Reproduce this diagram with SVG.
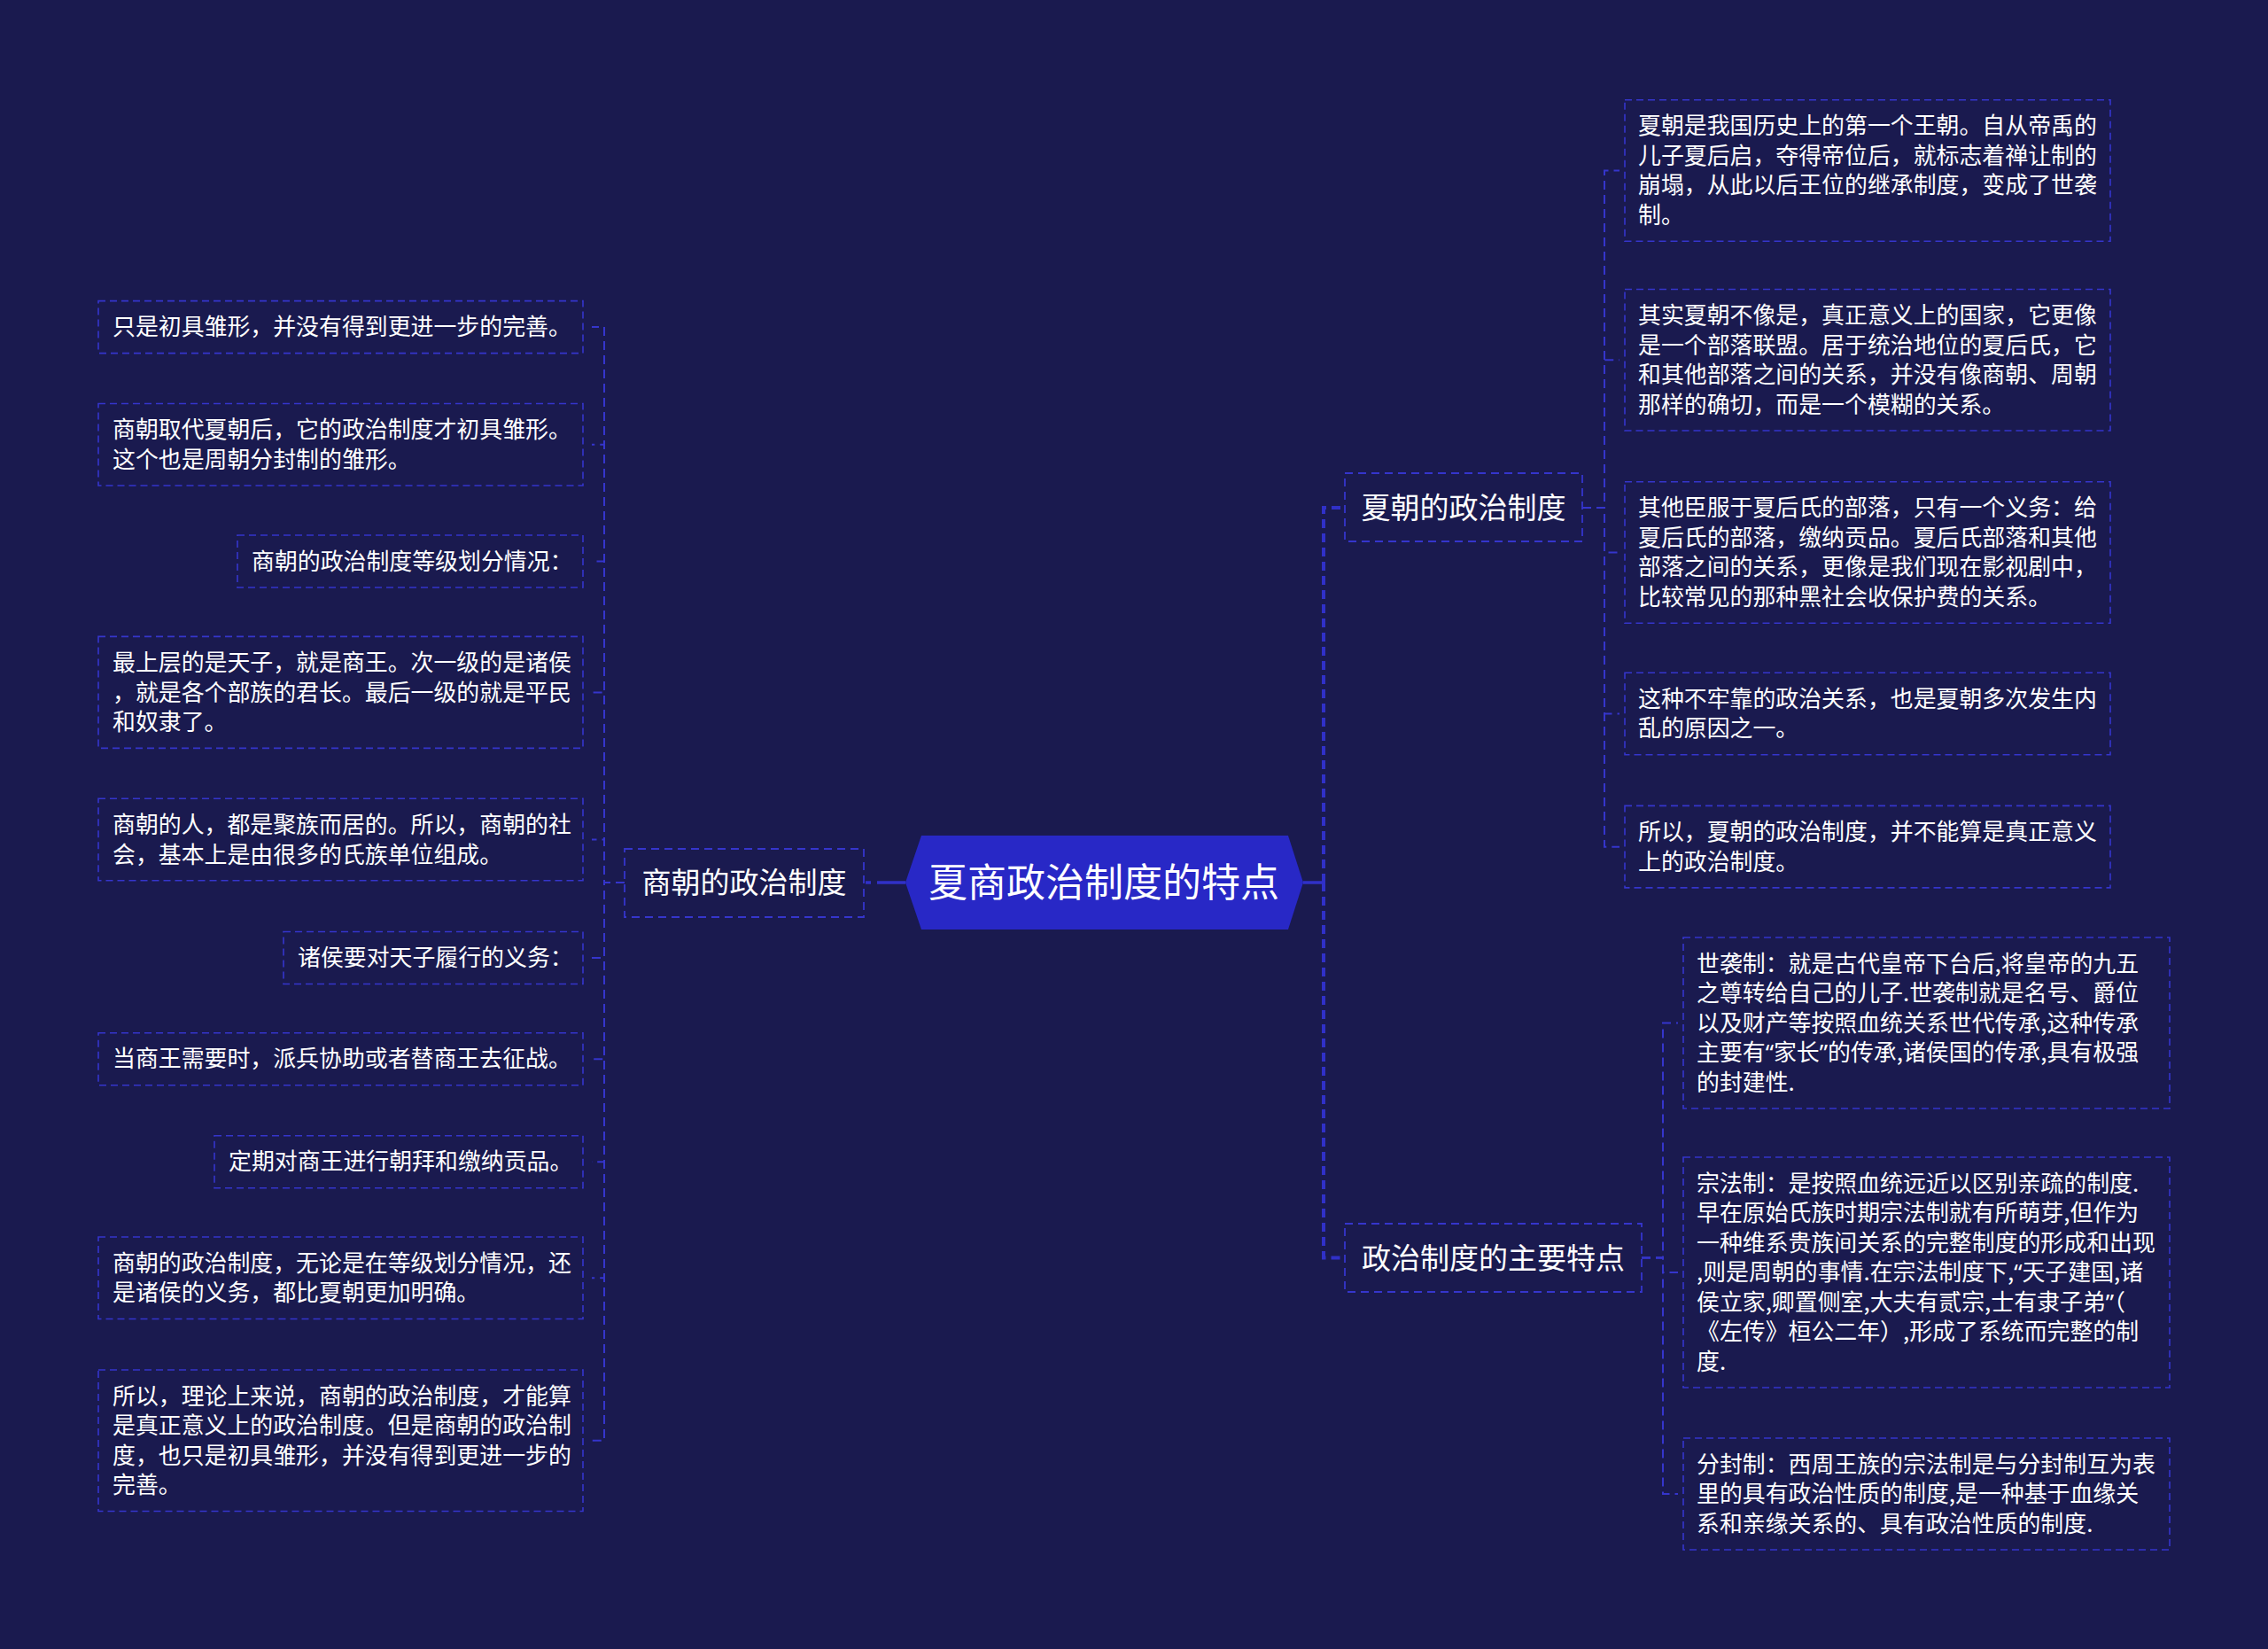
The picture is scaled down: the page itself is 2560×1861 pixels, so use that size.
<svg xmlns="http://www.w3.org/2000/svg" width="2560" height="1861" viewBox="0 0 2560 1861">
<style>
.bg{fill:#1a1a4f}
.leaf{fill:none;stroke:#3535cc;stroke-width:1.6;stroke-dasharray:8 5}
.branch{fill:#1a1a4f;stroke:#3535cc;stroke-width:1.8;stroke-dasharray:9 6}
.thin{fill:none;stroke:#3535cc;stroke-width:2;stroke-dasharray:10 6}
.thick{fill:none;stroke:#3030c8;stroke-width:4;stroke-dasharray:10 6}
.solid{fill:none;stroke:#3030c8;stroke-width:3.5}
.t{font-family:"Noto Sans CJK SC","Noto Sans",sans-serif;fill:#ffffff}
.q{font-family:"Noto Sans","DejaVu Sans",sans-serif}
.lt{font-size:25.9px}
.bt{font-size:33px;text-anchor:middle}
.rt{font-size:44px;text-anchor:middle}
</style>
<rect class="bg" x="0" y="0" width="2560" height="1861"/>

<g id="connectors">
  <path class="solid" d="M1022 996 H990"/>
  <path class="solid" d="M983 996 H977"/>
  <path class="solid" d="M1471 996 H1494"/>
  <path class="thick" d="M1494 996 V573 H1517"/>
  <path class="thick" d="M1494 996 V1419.5 H1517"/>
  <path class="thin" d="M705 996 H682 V369 H668"/>
  <path class="thin" d="M705 996 H682 V501.75 H668"/>
  <path class="thin" d="M705 996 H682 V633.5 H668"/>
  <path class="thin" d="M705 996 H682 V781.4 H668"/>
  <path class="thin" d="M705 996 H682 V947.5 H668"/>
  <path class="thin" d="M705 996 H682 V1081 H668"/>
  <path class="thin" d="M705 996 H682 V1195.2 H668"/>
  <path class="thin" d="M705 996 H682 V1311.2 H668"/>
  <path class="thin" d="M705 996 H682 V1442.2 H668"/>
  <path class="thin" d="M705 996 H682 V1625.75 H668"/>
  <path class="thin" d="M1786 573 H1811 V192.5 H1828"/>
  <path class="thin" d="M1786 573 H1811 V406.25 H1828"/>
  <path class="thin" d="M1786 573 H1811 V623.5 H1828"/>
  <path class="thin" d="M1786 573 H1811 V805.5 H1828"/>
  <path class="thin" d="M1786 573 H1811 V955.7 H1828"/>
  <path class="thin" d="M1853 1419.5 H1877 V1154.5 H1894"/>
  <path class="thin" d="M1853 1419.5 H1877 V1436 H1894"/>
  <path class="thin" d="M1853 1419.5 H1877 V1686 H1894"/>
</g>

<g id="root">
  <polygon points="1022,996 1040,943 1454,943 1471,996 1454,1049 1040,1049" fill="#2828c6"/>
  <text class="t rt" x="1246" y="1012">夏商政治制度的特点</text>
</g>

<g id="shang">
  <rect class="branch" x="705" y="958" width="270" height="77"/>
  <text class="t bt" x="840" y="1008">商朝的政治制度</text>
</g>
<g id="xia">
  <rect class="branch" x="1518" y="534" width="268" height="77"/>
  <text class="t bt" x="1652" y="584.5">夏朝的政治制度</text>
</g>
<g id="features">
  <rect class="branch" x="1518" y="1381" width="335" height="77"/>
  <text class="t bt" x="1685.5" y="1431.5">政治制度的主要特点</text>
</g>

<g id="s1"><rect class="leaf" x="111" y="339.6" width="547" height="59"/>
<text class="t lt" x="127" y="378">只是初具雏形，并没有得到更进一步的完善。</text></g>
<g id="s2"><rect class="leaf" x="111" y="455.5" width="547" height="92.5"/>
<text class="t lt" x="127" y="494">商朝取代夏朝后，它的政治制度才初具雏形。</text>
<text class="t lt" x="127" y="527.5">这个也是周朝分封制的雏形。</text></g>
<g id="s3"><rect class="leaf" x="268" y="604" width="390" height="59"/>
<text class="t lt" x="284" y="642.5">商朝的政治制度等级划分情况：</text></g>
<g id="s4"><rect class="leaf" x="111" y="718.4" width="547" height="126"/>
<text class="t lt" x="127" y="757">最上层的是天子，就是商王。次一级的是诸侯</text>
<text class="t lt" x="127" y="790.5">，就是各个部族的君长。最后一级的就是平民</text>
<text class="t lt" x="127" y="824">和奴隶了。</text></g>
<g id="s5"><rect class="leaf" x="111" y="901.3" width="547" height="92.5"/>
<text class="t lt" x="127" y="940">商朝的人，都是聚族而居的。所以，商朝的社</text>
<text class="t lt" x="127" y="973.5">会，基本上是由很多的氏族单位组成。</text></g>
<g id="s6"><rect class="leaf" x="320" y="1051.5" width="338" height="59"/>
<text class="t lt" x="336" y="1090">诸侯要对天子履行的义务：</text></g>
<g id="s7"><rect class="leaf" x="111" y="1165.7" width="547" height="59"/>
<text class="t lt" x="127" y="1204">当商王需要时，派兵协助或者替商王去征战。</text></g>
<g id="s8"><rect class="leaf" x="242" y="1281.7" width="416" height="59"/>
<text class="t lt" x="258" y="1320">定期对商王进行朝拜和缴纳贡品。</text></g>
<g id="s9"><rect class="leaf" x="111" y="1396" width="547" height="92.5"/>
<text class="t lt" x="127" y="1434.5">商朝的政治制度，无论是在等级划分情况，还</text>
<text class="t lt" x="127" y="1468">是诸侯的义务，都比夏朝更加明确。</text></g>
<g id="s10"><rect class="leaf" x="111" y="1546" width="547" height="159.5"/>
<text class="t lt" x="127" y="1584.5">所以，理论上来说，商朝的政治制度，才能算</text>
<text class="t lt" x="127" y="1618">是真正意义上的政治制度。但是商朝的政治制</text>
<text class="t lt" x="127" y="1651.5">度，也只是初具雏形，并没有得到更进一步的</text>
<text class="t lt" x="127" y="1685">完善。</text></g>

<g id="x1"><rect class="leaf" x="1834" y="112.7" width="548" height="159.5"/>
<text class="t lt" x="1849" y="151">夏朝是我国历史上的第一个王朝。自从帝禹的</text>
<text class="t lt" x="1849" y="184.5">儿子夏后启，夺得帝位后，就标志着禅让制的</text>
<text class="t lt" x="1849" y="218">崩塌，从此以后王位的继承制度，变成了世袭</text>
<text class="t lt" x="1849" y="251.5">制。</text></g>
<g id="x2"><rect class="leaf" x="1834" y="326.5" width="548" height="159.5"/>
<text class="t lt" x="1849" y="365">其实夏朝不像是，真正意义上的国家，它更像</text>
<text class="t lt" x="1849" y="398.5">是一个部落联盟。居于统治地位的夏后氏，它</text>
<text class="t lt" x="1849" y="432">和其他部落之间的关系，并没有像商朝、周朝</text>
<text class="t lt" x="1849" y="465.5">那样的确切，而是一个模糊的关系。</text></g>
<g id="x3"><rect class="leaf" x="1834" y="543.7" width="548" height="159.5"/>
<text class="t lt" x="1849" y="582">其他臣服于夏后氏的部落，只有一个义务：给</text>
<text class="t lt" x="1849" y="615.5">夏后氏的部落，缴纳贡品。夏后氏部落和其他</text>
<text class="t lt" x="1849" y="649">部落之间的关系，更像是我们现在影视剧中，</text>
<text class="t lt" x="1849" y="682.5">比较常见的那种黑社会收保护费的关系。</text></g>
<g id="x4"><rect class="leaf" x="1834" y="759.2" width="548" height="92.5"/>
<text class="t lt" x="1849" y="797.7">这种不牢靠的政治关系，也是夏朝多次发生内</text>
<text class="t lt" x="1849" y="831.2">乱的原因之一。</text></g>
<g id="x5"><rect class="leaf" x="1834" y="909.4" width="548" height="92.5"/>
<text class="t lt" x="1849" y="948">所以，夏朝的政治制度，并不能算是真正意义</text>
<text class="t lt" x="1849" y="981.5">上的政治制度。</text></g>

<g id="f1"><rect class="leaf" x="1900" y="1058" width="549" height="193"/>
<text class="t lt" x="1915" y="1096.5">世袭制：就是古代皇帝下台后,将皇帝的九五</text>
<text class="t lt" x="1915" y="1130">之尊转给自己的儿子.世袭制就是名号、爵位</text>
<text class="t lt" x="1915" y="1163.5">以及财产等按照血统关系世代传承,这种传承</text>
<text class="t lt" x="1915" y="1197">主要有<tspan class="q">“</tspan>家长<tspan class="q">”</tspan>的传承,诸侯国的传承,具有极强</text>
<text class="t lt" x="1915" y="1230.5">的封建性.</text></g>
<g id="f2"><rect class="leaf" x="1900" y="1306" width="549" height="260"/>
<text class="t lt" x="1915" y="1344.5">宗法制：是按照血统远近以区别亲疏的制度.</text>
<text class="t lt" x="1915" y="1378">早在原始氏族时期宗法制就有所萌芽,但作为</text>
<text class="t lt" x="1915" y="1411.5">一种维系贵族间关系的完整制度的形成和出现</text>
<text class="t lt" x="1915" y="1445">,则是周朝的事情.在宗法制度下,<tspan class="q">“</tspan>天子建国,诸</text>
<text class="t lt" x="1915" y="1478.5">侯立家,卿置侧室,大夫有贰宗,士有隶子弟<tspan class="q">”</tspan>（</text>
<text class="t lt" x="1915" y="1512">《左传》桓公二年）,形成了系统而完整的制</text>
<text class="t lt" x="1915" y="1545.5">度.</text></g>
<g id="f3"><rect class="leaf" x="1900" y="1623" width="549" height="126"/>
<text class="t lt" x="1915" y="1661.5">分封制：西周王族的宗法制是与分封制互为表</text>
<text class="t lt" x="1915" y="1695">里的具有政治性质的制度,是一种基于血缘关</text>
<text class="t lt" x="1915" y="1728.5">系和亲缘关系的、具有政治性质的制度.</text></g>
</svg>
